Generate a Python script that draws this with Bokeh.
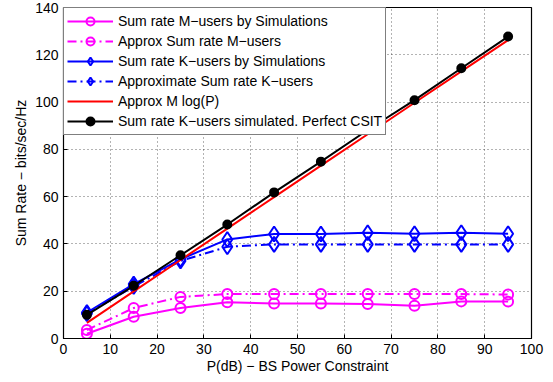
from bokeh.plotting import figure
from bokeh.models import FixedTicker, Range1d, Legend
from bokeh.embed import file_html
from bokeh.resources import INLINE

# ---- data ----
p_db = [5, 15, 25, 35, 45, 55, 65, 75, 85, 95]
m_sim = [2.0, 9.2, 12.9, 15.3, 14.8, 14.8, 14.6, 13.9, 15.7, 15.6]
m_approx = [3.6, 12.9, 17.6, 18.8, 18.8, 18.8, 18.8, 18.8, 18.8, 18.6]
k_sim = [11.0, 23.0, 33.5, 41.9, 44.2, 44.2, 44.7, 44.3, 44.7, 44.3]
k_approx = [10.5, 22.0, 32.8, 38.8, 39.8, 39.8, 39.8, 39.8, 39.8, 39.8]
approx_mlog = [6.6, 19.9, 33.2, 46.5, 59.8, 73.1, 86.4, 99.7, 113.0, 126.2]
perfect_csit = [10.0, 22.3, 35.2, 48.2, 61.8, 74.8, 88.2, 100.8, 114.3, 127.7]

x_ticks = [0, 10, 20, 30, 40, 50, 60, 70, 80, 90, 100]
y_ticks = [0, 20, 40, 60, 80, 100, 120, 140]

labels = [
    "Sum rate M\u2212users by Simulations",
    "Approx Sum rate M\u2212users",
    "Sum rate K\u2212users by Simulations",
    "Approximate Sum rate K\u2212users",
    "Approx M log(P)",
    "Sum rate K\u2212users simulated. Perfect CSIT",
]

FONT = "Liberation Sans"
MAG = "#ff00ff"
BLUE = "#0000ff"
RED = "#ff0000"
BLACK = "#000000"
DASHDOT = "9 4 2 4"

p = figure(width=550, height=380, output_backend="svg", toolbar_location=None,
           x_range=Range1d(0, 100), y_range=Range1d(0, 140),
           min_border_left=63, min_border_right=19, min_border_top=7, min_border_bottom=42)
p.background_fill_color = "white"
p.border_fill_color = "white"
p.outline_line_color = "black"
p.outline_line_width = 1.2

items = []

def series(y, color, dash, label, marker=None, size=10, fill=None):
    r = [p.line(p_db, y, line_color=color, line_width=2, line_dash=dash)]
    if marker is not None:
        r.append(p.scatter(p_db, y, marker=marker, size=size, line_color=color, line_width=2,
                           fill_color=fill if fill else "white",
                           fill_alpha=1.0 if fill else 0.0))
    items.append((label, r))

series(m_sim, MAG, "solid", labels[0], "circle", 10)
series(m_approx, MAG, DASHDOT, labels[1], "circle", 10)
series(k_sim, BLUE, "solid", labels[2], "diamond", 15)
series(k_approx, BLUE, DASHDOT, labels[3], "diamond", 15)
series(approx_mlog, RED, "solid", labels[4])
series(perfect_csit, BLACK, "solid", labels[5], "circle", 8, BLACK)

legend = Legend(items=items, location="top_left", margin=0, padding=3, spacing=0,
                label_height=20, glyph_height=20, glyph_width=46, label_standoff=5,
                border_line_color="black", border_line_width=1,
                background_fill_color="white", background_fill_alpha=1.0,
                label_text_font=FONT, label_text_font_size="14px",
                label_text_color="black")
p.add_layout(legend)

for ax in (p.xaxis, p.yaxis):
    ax.major_label_text_font = FONT
    ax.major_label_text_font_size = "14px"
    ax.major_label_text_color = "black"
    ax.axis_label_text_font = FONT
    ax.axis_label_text_font_size = "14px"
    ax.axis_label_text_font_style = "normal"
    ax.axis_label_text_color = "black"
    ax.major_tick_in = 4
    ax.major_tick_out = 0
    ax.minor_tick_line_color = None
    ax.axis_line_color = "black"
    ax.major_tick_line_color = "black"

p.xaxis.ticker = FixedTicker(ticks=x_ticks)
p.yaxis.ticker = FixedTicker(ticks=y_ticks)
p.xaxis.axis_label = "P(dB) \u2212 BS Power Constraint"
p.yaxis.axis_label = "Sum Rate \u2212 bits/sec/Hz"
p.xaxis.major_label_standoff = 5
p.yaxis.major_label_standoff = 5
p.xaxis.axis_label_standoff = 1
p.yaxis.axis_label_standoff = 3

for g, t in ((p.xgrid, x_ticks), (p.ygrid, y_ticks)):
    g.ticker = FixedTicker(ticks=t)
    g.grid_line_color = "black"
    g.grid_line_alpha = 0.6
    g.grid_line_dash = "1 3"
    g.grid_line_width = 1

open("out.html", "w").write(file_html(p, INLINE))
